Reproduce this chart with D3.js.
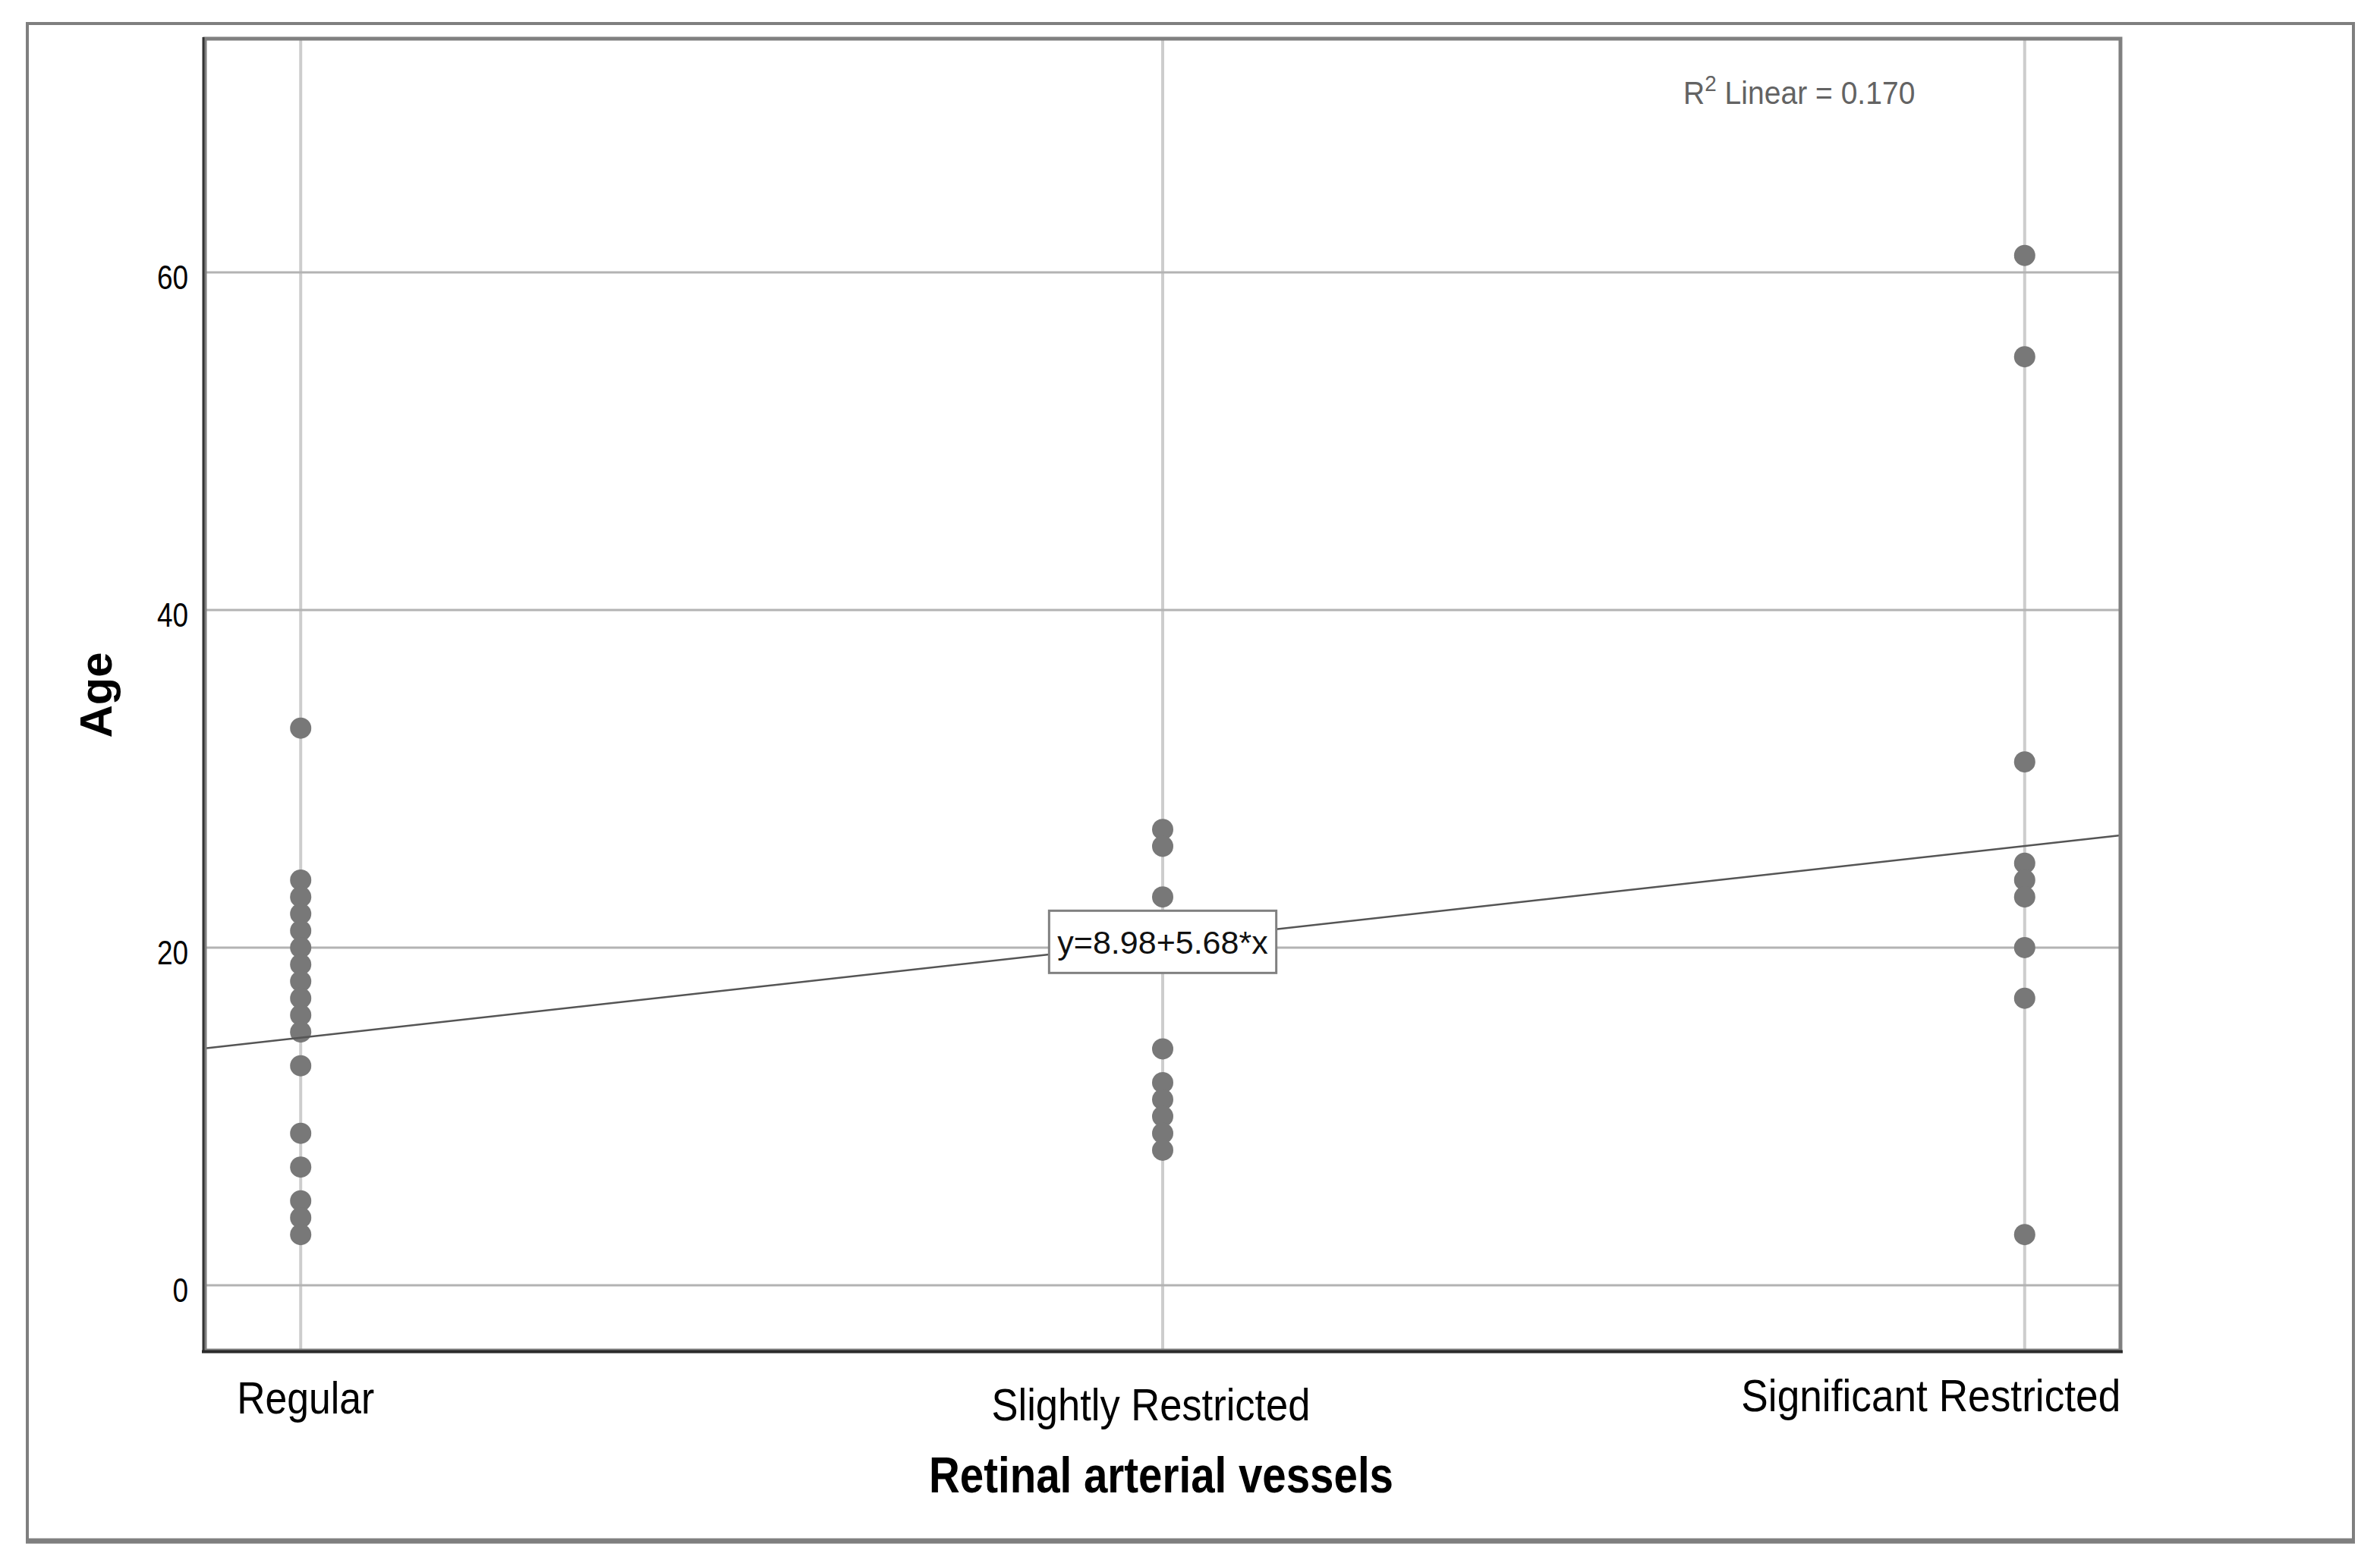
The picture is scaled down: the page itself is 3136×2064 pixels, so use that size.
<!DOCTYPE html>
<html>
<head>
<meta charset="utf-8">
<script src="https://cdn.jsdelivr.net/npm/d3@7"></script>
<style>
  html, body { margin: 0; padding: 0; background: #ffffff; }
  svg { display: block; font-family: "Liberation Sans", Arial, Helvetica, sans-serif; }
</style>
</head>
<body>
<svg id="chart" width="3136" height="2064"></svg>
<script>
// ---------------- data ----------------
const categories = ["Regular", "Slightly Restricted", "Significant Restricted"];
const categoryCodes = [1, 2, 3];
const regularAges = [33, 24, 23, 22, 21, 20, 19, 18, 17, 16, 15, 13, 9, 7, 5, 4, 3];
const slightlyAges = [27, 26, 23, 14, 12, 11, 10, 9, 8];
const significantAges = [61, 55, 31, 25, 24, 23, 20, 17, 3];
const yTickValues = [0, 20, 40, 60];
const fitIntercept = 8.98;
const fitSlope = 5.68;
const rSquaredText = "0.170";
const xTitle = "Retinal arterial vessels";
const yTitle = "Age";

// ---------------- layout ----------------
const plot = { left: 270, right: 2794, top: 51, bottom: 1780 };
const svg = d3.select("#chart");

const x = d3.scaleLinear().domain([1 - 1 / 9, 3 + 1 / 9]).range([plot.left, plot.right]);
const y = d3.scaleLinear().domain([-3.87, 73.84]).range([plot.bottom, plot.top]);

const agesByCategory = [regularAges, slightlyAges, significantAges];
const points = [];
agesByCategory.forEach((ages, i) => ages.forEach(a => points.push({ x: categoryCodes[i], y: a })));

// outer frame
svg.append("rect").attr("x", 36).attr("y", 31).attr("width", 3065).attr("height", 2000)
  .attr("fill", "#ffffff").attr("stroke", "#7f7f7f").attr("stroke-width", 4);
svg.append("line").attr("x1", 34).attr("x2", 3103).attr("y1", 2031).attr("y2", 2031)
  .attr("stroke", "#7f7f7f").attr("stroke-width", 7);

// gridlines
svg.append("g").selectAll("line").data(categoryCodes).join("line")
  .attr("x1", d => x(d)).attr("x2", d => x(d))
  .attr("y1", plot.top).attr("y2", plot.bottom)
  .attr("stroke", "#cdcdcd").attr("stroke-width", 4);
svg.append("g").selectAll("line").data(yTickValues).join("line")
  .attr("x1", plot.left).attr("x2", plot.right)
  .attr("y1", d => y(d)).attr("y2", d => y(d))
  .attr("stroke", "#b3b3b3").attr("stroke-width", 3);

// points
svg.append("g").selectAll("circle").data(points).join("circle")
  .attr("cx", d => x(d.x)).attr("cy", d => y(d.y)).attr("r", 14)
  .attr("fill", "#787878");

// regression line
const xd = x.domain();
const fit = v => fitIntercept + fitSlope * v;
svg.append("line")
  .attr("x1", x(xd[0])).attr("y1", y(fit(xd[0])))
  .attr("x2", x(xd[1])).attr("y2", y(fit(xd[1])))
  .attr("stroke", "#555555").attr("stroke-width", 2.5);

// plot frame
svg.append("rect").attr("x", plot.left).attr("y", plot.top)
  .attr("width", plot.right - plot.left).attr("height", plot.bottom - plot.top)
  .attr("fill", "none").attr("stroke", "#808080").attr("stroke-width", 5);
svg.append("line").attr("x1", plot.left - 2).attr("x2", plot.left - 2)
  .attr("y1", plot.top - 2).attr("y2", plot.bottom + 3)
  .attr("stroke", "#333333").attr("stroke-width", 3);
svg.append("line").attr("x1", plot.left - 4).attr("x2", plot.right + 3)
  .attr("y1", plot.bottom + 1.5).attr("y2", plot.bottom + 1.5)
  .attr("stroke", "#2b2b2b").attr("stroke-width", 4);

// equation label
const eqX = x(2), eqY = y(fit(2));
const eqG = svg.append("g");
const eqRect = eqG.append("rect");
const eqText = eqG.append("text")
  .attr("x", eqX).attr("y", eqY + 16)
  .attr("text-anchor", "middle").attr("font-size", 43).attr("fill", "#111111")
  .text("y=" + fitIntercept.toFixed(2) + "+" + fitSlope.toFixed(2) + "*x");
const eqW = eqText.node().getComputedTextLength() + 22;
eqRect.attr("x", eqX - eqW / 2).attr("y", eqY - 41).attr("width", eqW).attr("height", 82)
  .attr("fill", "#ffffff").attr("stroke", "#808080").attr("stroke-width", 3);

// R² annotation
const r2 = svg.append("g").attr("transform", "translate(2218,137) scale(0.93,1)")
  .append("text").attr("font-size", 42).attr("fill", "#636363");
r2.append("tspan").text("R");
r2.append("tspan").attr("font-size", 30).attr("dy", -17).text("2");
r2.append("tspan").attr("dy", 17).text(" Linear = " + rSquaredText);

// y axis
const yAxisG = svg.append("g").attr("transform", "translate(248,0)")
  .call(d3.axisLeft(y).tickValues(yTickValues).tickSize(0).tickPadding(0).tickFormat(d3.format("d")));
yAxisG.select(".domain").remove();
yAxisG.selectAll("text")
  .attr("dy", null).attr("y", 22).attr("x", 0)
  .attr("transform", "scale(0.84,1)")
  .attr("font-size", 44).attr("font-family", "'Liberation Sans', Arial, sans-serif")
  .attr("fill", "#000000");

// x axis
const xLabelDx = [6, -16, -124];
const xLabelBase = [1863, 1872, 1860];
const xLabelLen = [181, 420, 500];
const xAxisG = svg.append("g").attr("transform", "translate(0,0)")
  .call(d3.axisBottom(x).tickValues(categoryCodes).tickSize(0)
    .tickFormat((d, i) => categories[i]));
xAxisG.select(".domain").remove();
xAxisG.selectAll("text")
  .attr("dy", null)
  .attr("x", (d, i) => xLabelDx[i])
  .attr("y", (d, i) => xLabelBase[i])
  .attr("textLength", (d, i) => xLabelLen[i])
  .attr("lengthAdjust", "spacingAndGlyphs")
  .attr("font-size", 60).attr("font-family", "'Liberation Sans', Arial, sans-serif")
  .attr("fill", "#000000");

// axis titles
svg.append("text").attr("x", 1530).attr("y", 1967)
  .attr("text-anchor", "middle").attr("font-size", 66).attr("font-weight", "bold")
  .attr("textLength", 612).attr("lengthAdjust", "spacingAndGlyphs")
  .attr("fill", "#000000").text(xTitle);
svg.append("text").attr("transform", "translate(147,916) rotate(-90)")
  .attr("text-anchor", "middle").attr("font-size", 60).attr("font-weight", "bold")
  .attr("textLength", 113).attr("lengthAdjust", "spacingAndGlyphs")
  .attr("fill", "#000000").text(yTitle);
</script>
</body>
</html>
